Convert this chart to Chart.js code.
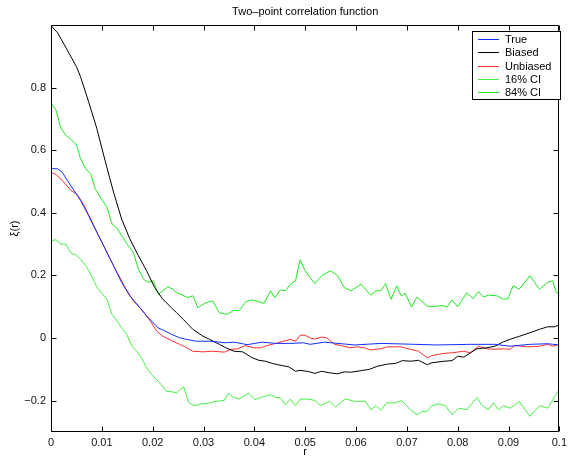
<!DOCTYPE html>
<html>
<head>
<meta charset="utf-8">
<script src="https://cdn.jsdelivr.net/npm/chart.js@4/dist/chart.umd.min.js"></script>
<style>
  html, body { margin: 0; padding: 0; background: #fff; }
  #wrap { width: 571px; height: 459px; }
</style>
</head>
<body>
<div id="wrap"><canvas id="c" width="571" height="459"></canvas></div>
<script>
// Separation r and correlation estimates xi(r)
const rTrue = [0, 0.0013, 0.0022, 0.0032, 0.0045, 0.0058, 0.0074, 0.009, 0.0107, 0.0123, 0.0139, 0.0155, 0.0172, 0.0188, 0.0204, 0.0211, 0.022, 0.0237, 0.0253, 0.0266, 0.0286, 0.0312, 0.0344, 0.036, 0.0386, 0.0416, 0.0442, 0.0474, 0.0497, 0.051, 0.0538, 0.0597, 0.0649, 0.0694, 0.0759, 0.0825, 0.0873, 0.0903, 0.0942, 0.0977, 0.1];
const xiTrue = [0.541, 0.541, 0.53, 0.504, 0.472, 0.44, 0.391, 0.338, 0.284, 0.231, 0.178, 0.135, 0.103, 0.071, 0.044, 0.032, 0.026, 0.012, 0.001, -0.004, -0.01, -0.01, -0.015, -0.013, -0.021, -0.013, -0.017, -0.017, -0.015, -0.02, -0.013, -0.022, -0.017, -0.019, -0.022, -0.02, -0.02, -0.026, -0.02, -0.018, -0.022];

const rBiased = [0, 0.0013, 0.0032, 0.005, 0.0058, 0.0074, 0.009, 0.0107, 0.0123, 0.0139, 0.0155, 0.0172, 0.0188, 0.0204, 0.022, 0.0237, 0.0247, 0.026, 0.0279, 0.0299, 0.0312, 0.0331, 0.0344, 0.036, 0.0377, 0.0396, 0.0409, 0.0422, 0.0435, 0.0455, 0.0468, 0.0481, 0.049, 0.0507, 0.0519, 0.0532, 0.0548, 0.0564, 0.0577, 0.059, 0.061, 0.0626, 0.0642, 0.0662, 0.0678, 0.0691, 0.0707, 0.0723, 0.074, 0.0749, 0.0773, 0.0789, 0.08, 0.0812, 0.0825, 0.0838, 0.0857, 0.0873, 0.089, 0.0903, 0.0922, 0.0942, 0.0961, 0.0977, 0.099, 0.1];
const xiBiased = [0.998, 0.975, 0.92, 0.867, 0.835, 0.755, 0.67, 0.563, 0.466, 0.38, 0.317, 0.263, 0.215, 0.161, 0.124, 0.097, 0.081, 0.06, 0.028, 0.006, -0.004, -0.02, -0.031, -0.042, -0.044, -0.063, -0.071, -0.074, -0.081, -0.088, -0.092, -0.106, -0.103, -0.107, -0.113, -0.106, -0.111, -0.114, -0.108, -0.109, -0.104, -0.1, -0.09, -0.083, -0.081, -0.072, -0.074, -0.071, -0.085, -0.079, -0.074, -0.072, -0.058, -0.061, -0.047, -0.034, -0.031, -0.026, -0.012, -0.004, 0.006, 0.017, 0.028, 0.036, 0.036, 0.042];

const rUnbiased = [0, 0.001, 0.0022, 0.0039, 0.0052, 0.0065, 0.0081, 0.0097, 0.0113, 0.013, 0.0146, 0.0162, 0.0178, 0.0195, 0.0208, 0.022, 0.0237, 0.0253, 0.0266, 0.0279, 0.0299, 0.0318, 0.0341, 0.0354, 0.0367, 0.0383, 0.0399, 0.0412, 0.0425, 0.0442, 0.0458, 0.0471, 0.0481, 0.049, 0.05, 0.051, 0.0519, 0.0532, 0.0542, 0.0558, 0.0571, 0.0587, 0.0603, 0.0616, 0.0629, 0.0649, 0.0662, 0.0688, 0.0707, 0.0723, 0.074, 0.0749, 0.0762, 0.0773, 0.0789, 0.0812, 0.0825, 0.0841, 0.0857, 0.0873, 0.089, 0.0903, 0.0912, 0.0938, 0.0961, 0.0977, 0.0987, 0.1];
const xiUnbiased = [0.53, 0.522, 0.504, 0.472, 0.458, 0.424, 0.37, 0.317, 0.263, 0.21, 0.161, 0.119, 0.092, 0.055, 0.022, 0.006, -0.008, -0.02, -0.03, -0.042, -0.044, -0.042, -0.045, -0.036, -0.034, -0.024, -0.031, -0.031, -0.024, -0.017, -0.01, -0.004, -0.01, 0.009, 0.009, 0.0, -0.003, 0.003, 0.001, -0.02, -0.024, -0.031, -0.028, -0.031, -0.038, -0.034, -0.028, -0.028, -0.036, -0.042, -0.063, -0.056, -0.052, -0.049, -0.047, -0.042, -0.047, -0.026, -0.034, -0.036, -0.034, -0.036, -0.024, -0.028, -0.026, -0.02, -0.026, -0.02];

const rCI16 = [0, 0.001, 0.0019, 0.0029, 0.0039, 0.0049, 0.0058, 0.0071, 0.0081, 0.0091, 0.01, 0.011, 0.012, 0.013, 0.0139, 0.0149, 0.0159, 0.0168, 0.0178, 0.0188, 0.0198, 0.0208, 0.0217, 0.0227, 0.0237, 0.0247, 0.0253, 0.0261, 0.0271, 0.0281, 0.0295, 0.0312, 0.0325, 0.0341, 0.0349, 0.0358, 0.037, 0.0389, 0.0401, 0.0416, 0.0432, 0.0442, 0.0451, 0.0461, 0.0471, 0.0481, 0.049, 0.0505, 0.0519, 0.053, 0.0548, 0.056, 0.0579, 0.0597, 0.0619, 0.0629, 0.0639, 0.0649, 0.066, 0.0675, 0.069, 0.0707, 0.072, 0.073, 0.074, 0.0749, 0.0763, 0.0776, 0.0789, 0.0802, 0.0818, 0.0838, 0.0847, 0.086, 0.087, 0.088, 0.089, 0.0903, 0.0921, 0.0942, 0.0961, 0.0977, 0.1];
const xiCI16 = [0.311, 0.314, 0.3, 0.3, 0.271, 0.266, 0.252, 0.226, 0.194, 0.161, 0.143, 0.124, 0.076, 0.055, 0.033, 0.012, -0.026, -0.042, -0.063, -0.095, -0.117, -0.133, -0.149, -0.171, -0.171, -0.176, -0.165, -0.156, -0.205, -0.216, -0.211, -0.207, -0.202, -0.199, -0.176, -0.188, -0.195, -0.176, -0.197, -0.188, -0.181, -0.19, -0.19, -0.213, -0.195, -0.216, -0.195, -0.195, -0.199, -0.215, -0.202, -0.22, -0.194, -0.202, -0.202, -0.229, -0.216, -0.231, -0.207, -0.207, -0.2, -0.229, -0.245, -0.234, -0.234, -0.216, -0.21, -0.216, -0.245, -0.224, -0.229, -0.19, -0.213, -0.229, -0.207, -0.229, -0.216, -0.224, -0.202, -0.25, -0.216, -0.224, -0.163];

const rCI84 = [0, 0.001, 0.0019, 0.0029, 0.0039, 0.005, 0.0058, 0.0068, 0.0078, 0.0087, 0.0097, 0.011, 0.012, 0.013, 0.0139, 0.0152, 0.0162, 0.0172, 0.0182, 0.0191, 0.0201, 0.0211, 0.022, 0.023, 0.024, 0.0247, 0.0256, 0.0269, 0.0279, 0.0289, 0.0302, 0.0318, 0.0331, 0.0347, 0.036, 0.037, 0.0383, 0.0396, 0.0419, 0.0432, 0.044, 0.0451, 0.0461, 0.0471, 0.0481, 0.049, 0.0499, 0.0509, 0.0519, 0.0532, 0.055, 0.0564, 0.0577, 0.059, 0.061, 0.0629, 0.0639, 0.0649, 0.0658, 0.0669, 0.068, 0.0689, 0.0697, 0.0709, 0.072, 0.074, 0.0756, 0.0769, 0.0779, 0.0789, 0.08, 0.0818, 0.083, 0.0841, 0.0851, 0.086, 0.0877, 0.089, 0.0899, 0.0909, 0.0921, 0.0942, 0.0961, 0.0977, 0.0987, 0.0994, 0.1];
const xiCI84 = [0.75, 0.728, 0.672, 0.648, 0.635, 0.618, 0.573, 0.541, 0.525, 0.477, 0.45, 0.418, 0.365, 0.351, 0.327, 0.295, 0.274, 0.22, 0.188, 0.178, 0.183, 0.14, 0.151, 0.164, 0.156, 0.145, 0.14, 0.129, 0.135, 0.097, 0.111, 0.119, 0.081, 0.076, 0.089, 0.087, 0.116, 0.122, 0.111, 0.151, 0.129, 0.154, 0.151, 0.172, 0.183, 0.25, 0.218, 0.194, 0.174, 0.199, 0.215, 0.199, 0.161, 0.151, 0.172, 0.137, 0.151, 0.151, 0.174, 0.124, 0.167, 0.135, 0.143, 0.099, 0.131, 0.102, 0.101, 0.104, 0.099, 0.122, 0.1, 0.145, 0.126, 0.148, 0.131, 0.137, 0.135, 0.124, 0.126, 0.167, 0.156, 0.199, 0.156, 0.178, 0.183, 0.145, 0.145];

const seriesLabels = ['True', 'Biased', 'Unbiased', '16% CI', '84% CI'];
const seriesColors = ['#1030ff', '#000000', '#ff3030', '#44f044', '#1ee81e'];

const xTickValues = [0, 0.01, 0.02, 0.03, 0.04, 0.05, 0.06, 0.07, 0.08, 0.09, 0.1];
const yTickValues = [-0.2, 0, 0.2, 0.4, 0.6, 0.8];

const FONT = '"Liberation Sans", Arial, Helvetica, sans-serif';

function pts(rs, ys) { return rs.map((r, i) => ({ x: r, y: ys[i] })); }
function fmt(v) {
  const s = String(Number(v.toFixed(3)));
  return s.startsWith('-') ? '\u2212' + s.slice(1) : s;
}

function series(i, rs, ys) {
  return {
    label: seriesLabels[i], data: pts(rs, ys),
    borderColor: seriesColors[i], backgroundColor: seriesColors[i],
    borderWidth: 1, pointRadius: 0, tension: 0, fill: false
  };
}

// Boxed axes with inward ticks on all four sides, titles and a boxed legend
const framePlugin = {
  id: 'frame',
  afterDatasetsDraw(chart) {
    const { ctx, chartArea: a, scales } = chart;
    const L = Math.round(a.left) + 0.5, R = Math.round(a.right) - 0.5;
    const T = Math.round(a.top) + 0.5, B = Math.round(a.bottom) - 0.5;
    ctx.save();
    ctx.strokeStyle = '#000';
    ctx.lineWidth = 1;
    ctx.beginPath();
    ctx.rect(L, T, R - L, B - T);
    const tl = 5;
    xTickValues.forEach(v => {
      const px = Math.round(scales.x.getPixelForValue(v)) + 0.5;
      ctx.moveTo(px, B); ctx.lineTo(px, B - tl);
      ctx.moveTo(px, T); ctx.lineTo(px, T + tl);
    });
    yTickValues.forEach(v => {
      const py = Math.round(scales.y.getPixelForValue(v)) + 0.5;
      ctx.moveTo(L, py); ctx.lineTo(L + tl, py);
      ctx.moveTo(R, py); ctx.lineTo(R - tl, py);
    });
    ctx.stroke();
    ctx.restore();
  },
  afterDraw(chart) {
    const { ctx, chartArea: a } = chart;
    ctx.save();
    ctx.fillStyle = '#000';
    ctx.font = '11px ' + FONT;
    ctx.textAlign = 'center';
    ctx.textBaseline = 'middle';
    const cx = (a.left + a.right) / 2;
    ctx.fillText('Two\u2013point correlation function', cx, 12);
    ctx.fillText('r', cx, 452);
    ctx.save();
    ctx.translate(15, (a.top + a.bottom) / 2);
    ctx.rotate(-Math.PI / 2);
    ctx.fillText('\u03BE(r)', 0, 0);
    ctx.restore();

    // legend
    const bx = 472.5, by = 31.5, bw = 88, bh = 68;
    ctx.fillStyle = '#fff';
    ctx.fillRect(bx, by, bw, bh);
    ctx.strokeStyle = '#000';
    ctx.lineWidth = 1;
    ctx.strokeRect(bx, by, bw, bh);
    ctx.textAlign = 'left';
    seriesLabels.forEach((label, i) => {
      const y = Math.round(39 + i * 13.3) + 0.5;
      ctx.beginPath();
      ctx.strokeStyle = seriesColors[i];
      ctx.lineWidth = 1;
      ctx.moveTo(478, y);
      ctx.lineTo(499, y);
      ctx.stroke();
      ctx.fillStyle = '#000';
      ctx.fillText(label, 505, y);
    });
    ctx.restore();
  }
};

new Chart(document.getElementById('c'), {
  type: 'line',
  data: {
    datasets: [
      series(0, rTrue, xiTrue),
      series(1, rBiased, xiBiased),
      series(2, rUnbiased, xiUnbiased),
      series(3, rCI16, xiCI16),
      series(4, rCI84, xiCI84)
    ]
  },
  options: {
    responsive: false,
    animation: false,
    layout: { padding: { top: 25, right: 6, left: 0, bottom: 0 } },
    plugins: { legend: { display: false }, title: { display: false }, tooltip: { enabled: false } },
    scales: {
      x: {
        type: 'linear', min: 0, max: 0.1,
        afterBuildTicks: s => { s.ticks = xTickValues.map(v => ({ value: v })); },
        afterFit: s => { s.height = 27; },
        grid: { display: false, drawTicks: false },
        border: { display: false },
        ticks: { padding: 4, color: '#111', font: { size: 11, family: FONT }, callback: v => fmt(v), maxRotation: 0, autoSkip: false }
      },
      y: {
        type: 'linear', min: -0.3, max: 1.0,
        afterBuildTicks: s => { s.ticks = yTickValues.map(v => ({ value: v })); },
        afterFit: s => { s.width = 51; },
        grid: { display: false, drawTicks: false },
        border: { display: false },
        ticks: { padding: 5, color: '#111', font: { size: 11, family: FONT }, callback: v => fmt(v), autoSkip: false }
      }
    }
  },
  plugins: [framePlugin]
});
</script>
</body>
</html>
